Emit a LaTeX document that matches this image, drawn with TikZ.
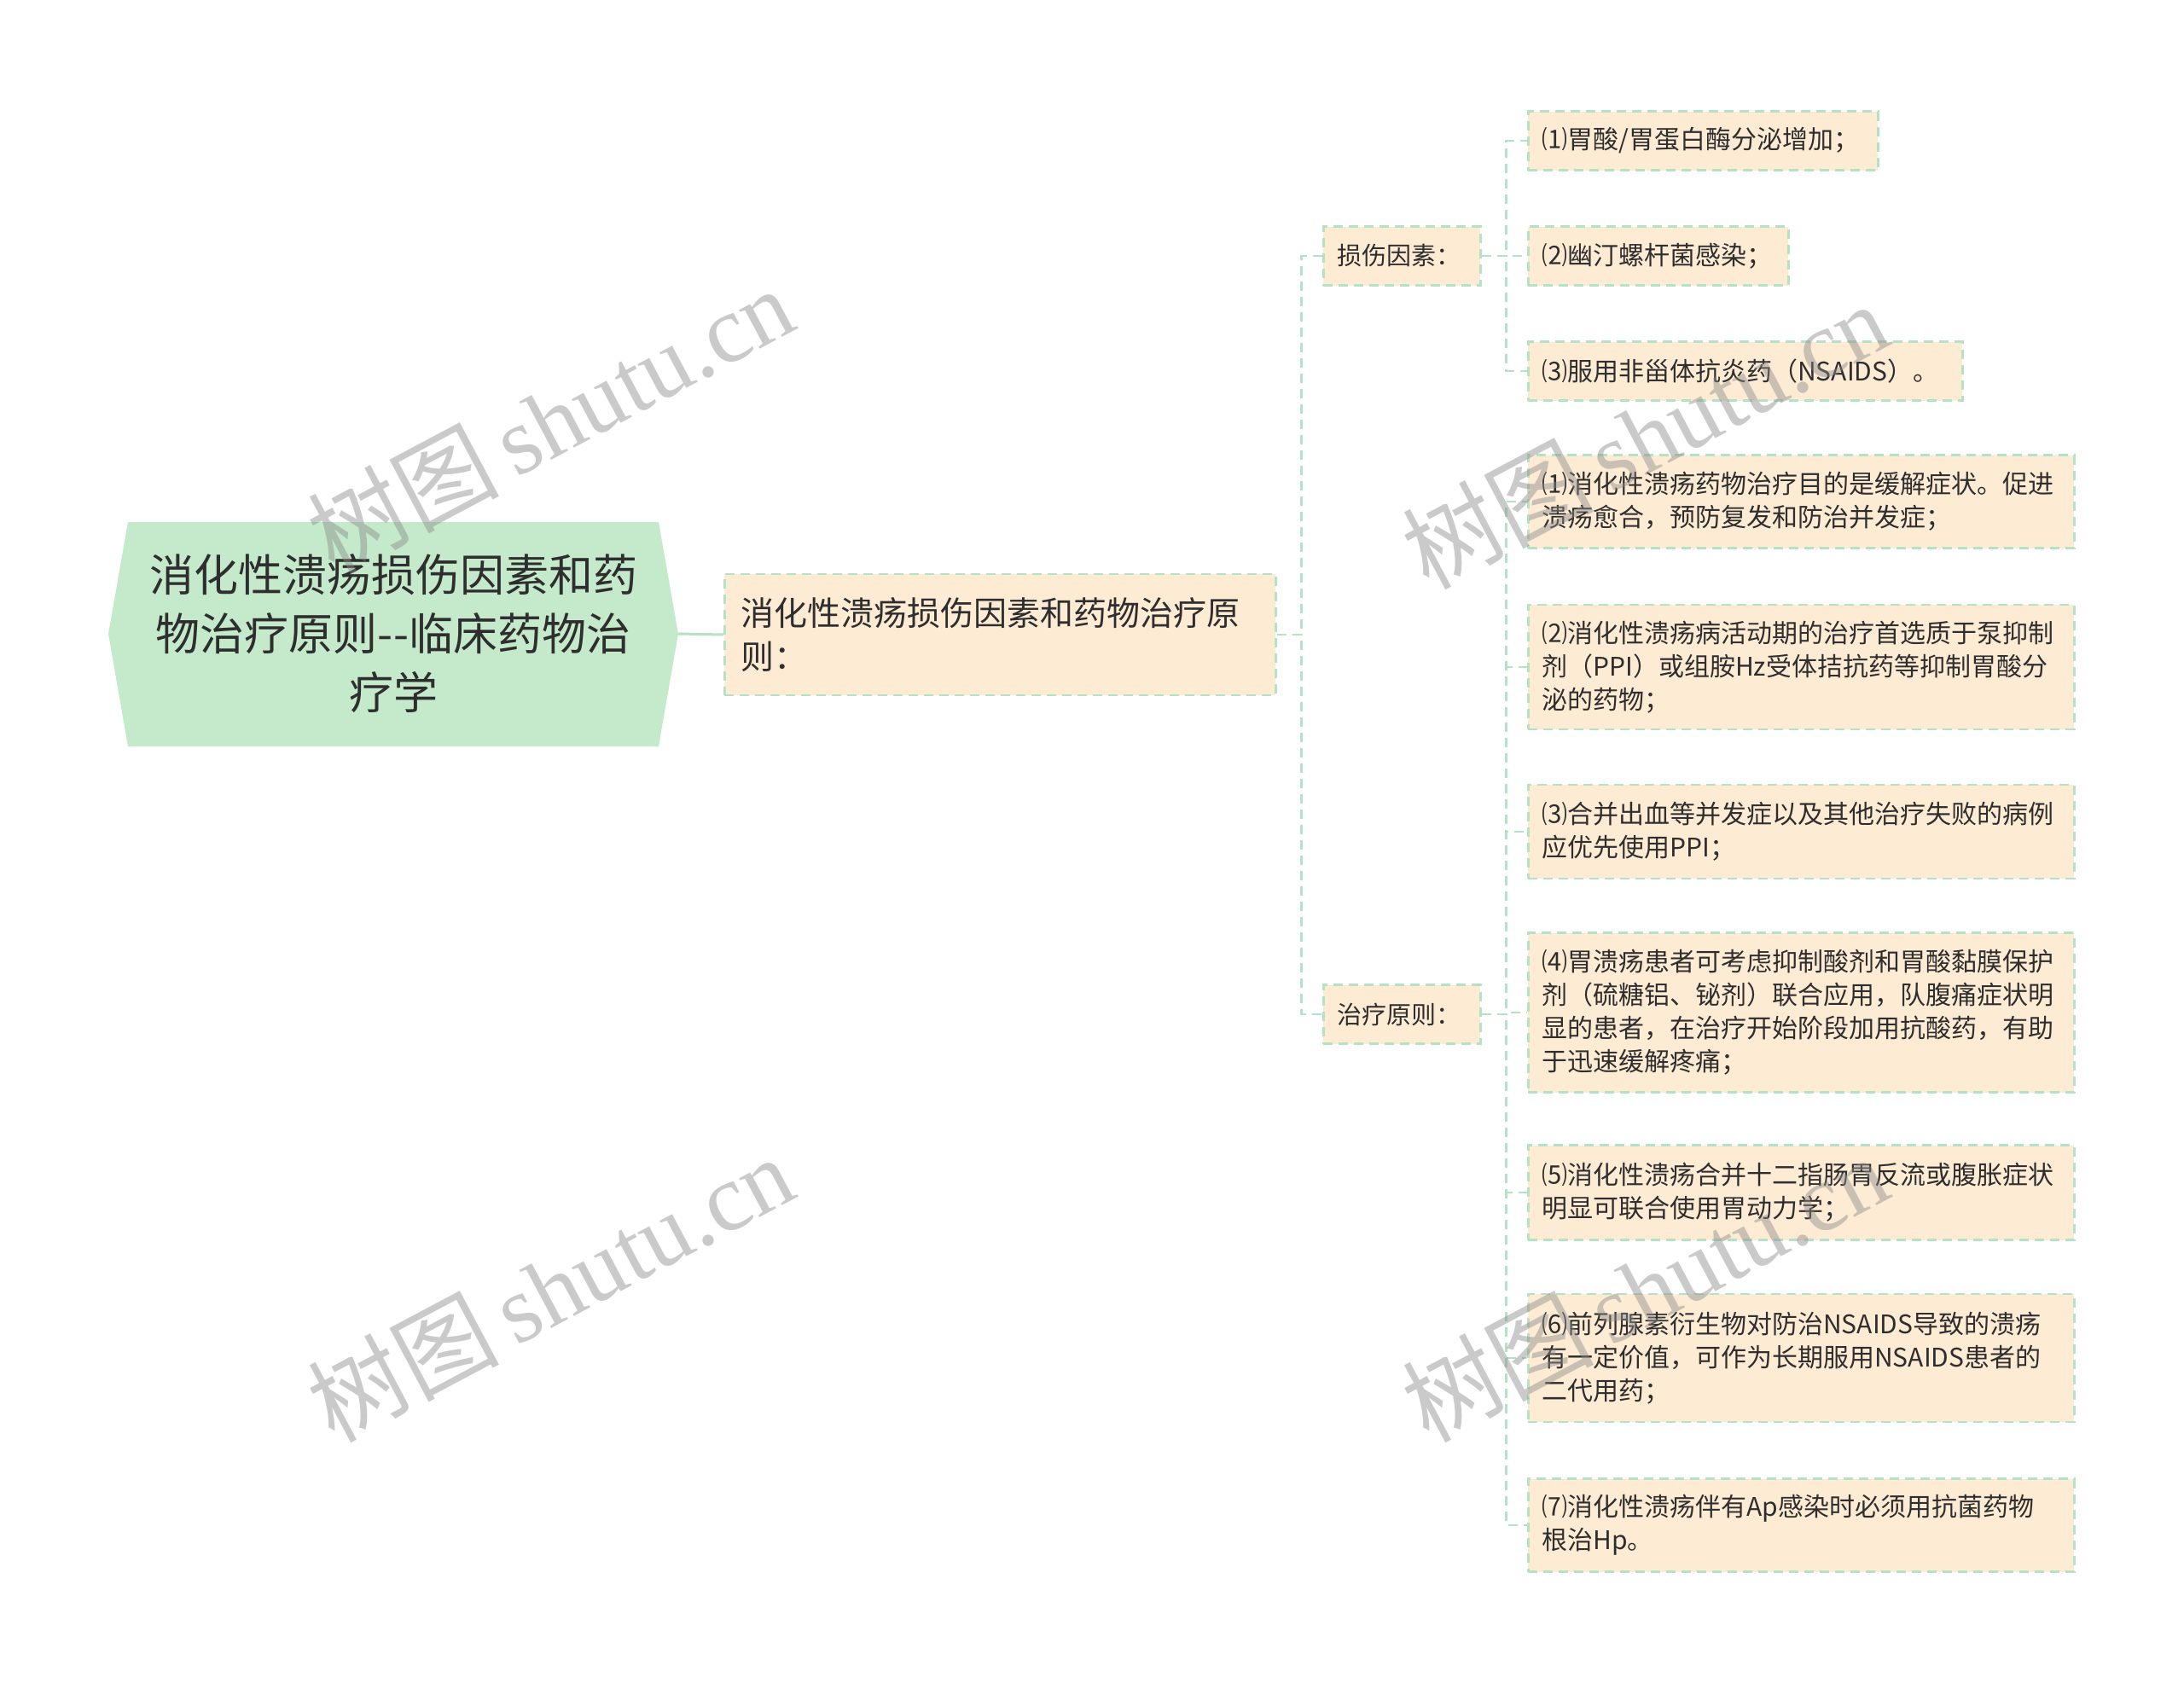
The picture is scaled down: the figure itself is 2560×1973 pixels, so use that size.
\documentclass[tikz,border=0pt]{standalone}
\usepackage{fontspec}
\setmainfont{Noto Sans CJK SC}
\newfontfamily\wmlatin{Liberation Serif}
\newfontfamily\wmcjk{Noto Sans CJK SC}
\definecolor{boxfill}{HTML}{FDEBD4}
\definecolor{linec}{HTML}{B4E2C4}
\definecolor{rootfill}{HTML}{C4EACB}
\definecolor{textc}{HTML}{2E2E2E}
\definecolor{wmc}{HTML}{8A8A8A}
\begin{document}
\begin{tikzpicture}[x=1pt,y=-1pt,
  dashline/.style={draw=linec, line width=2.5pt, dash pattern=on 11pt off 7pt},
  conn/.style={dashline},
  rootline/.style={draw=linec, line width=3pt},
  itembox/.style={rectangle, fill=boxfill, dashline, anchor=west, align=left,
    inner xsep=16pt, inner ysep=0pt, text=textc,
    font=\fontsize{30pt}{39pt}\selectfont},
  l1box/.style={rectangle, fill=boxfill, dashline, anchor=west, align=left,
    inner xsep=19pt, inner ysep=0pt, text=textc, text width=608pt,
    minimum height=142pt, font=\fontsize{39pt}{51pt}\selectfont},
  wm/.style={text=wmc, opacity=0.45, rotate=28, inner sep=0pt,
    font=\fontsize{112pt}{116pt}\selectfont}
]
\useasboundingbox (0,0) rectangle (2560,1973);

% root
\fill[rootfill] (127,743) -- (150,612) -- (772,612) -- (795,743) -- (772,875) -- (150,875) -- cycle;
\node[minimum width=668pt, minimum height=263pt, inner sep=0pt, align=center, text=textc,
  font=\fontsize{52pt}{69pt}\selectfont] (root) at (461,743)
  {消化性溃疡损伤因素和药\\物治疗原则-{}-临床药物治\\疗学};

% level 1
\node[l1box] (l1) at (848,744) {消化性溃疡损伤因素和药物治疗原\\则：};

% level 2
\node[itembox, text width=152pt, minimum height=69pt, font=\fontsize{29pt}{36pt}\selectfont] (dmg) at (1550,300) {损伤因素：};
\node[itembox, text width=152pt, minimum height=69pt, font=\fontsize{29pt}{36pt}\selectfont] (trt) at (1550,1189) {治疗原则：};

% damage items
\node[itembox, text width=378pt, minimum height=69pt] (d1) at (1790,165) {⑴胃酸/胃蛋白酶分泌增加；};
\node[itembox, text width=273pt, minimum height=69pt] (d2) at (1790,300) {⑵幽汀螺杆菌感染；};
\node[itembox, text width=477pt, minimum height=69pt] (d3) at (1790,435) {⑶服用非甾体抗炎药（NSAIDS）。};

% treatment items
\node[itembox, text width=608pt, minimum height=109pt] (t1) at (1790,588) {⑴消化性溃疡药物治疗目的是缓解症状。促进\\溃疡愈合，预防复发和防治并发症；};
\node[itembox, text width=608pt, minimum height=146pt] (t2) at (1790,782) {⑵消化性溃疡病活动期的治疗首选质于泵抑制\\剂（PPI）或组胺Hz受体拮抗药等抑制胃酸分\\泌的药物；};
\node[itembox, text width=608pt, minimum height=110pt] (t3) at (1790,975) {⑶合并出血等并发症以及其他治疗失败的病例\\应优先使用PPI；};
\node[itembox, text width=608pt, minimum height=187pt] (t4) at (1790,1187) {⑷胃溃疡患者可考虑抑制酸剂和胃酸黏膜保护\\剂（硫糖铝、铋剂）联合应用，队腹痛症状明\\显的患者，在治疗开始阶段加用抗酸药，有助\\于迅速缓解疼痛；};
\node[itembox, text width=608pt, minimum height=111pt] (t5) at (1790,1398) {⑸消化性溃疡合并十二指肠胃反流或腹胀症状\\明显可联合使用胃动力学；};
\node[itembox, text width=608pt, minimum height=150pt] (t6) at (1790,1592) {⑹前列腺素衍生物对防治NSAIDS导致的溃疡\\有一定价值，可作为长期服用NSAIDS患者的\\二代用药；};
\node[itembox, text width=608pt, minimum height=109pt] (t7) at (1790,1788) {⑺消化性溃疡伴有Ap感染时必须用抗菌药物\\根治Hp。};

% connectors
\draw[rootline] (root.east) -- (l1.west);
\foreach \c in {dmg,trt} \draw[conn] (l1.east) -- ++(29,0) |- (\c.west);
\foreach \c in {d1,d2,d3} \draw[conn] (dmg.east) -- ++(29,0) |- (\c.west);
\foreach \c in {t1,t2,t3,t4,t5,t6,t7} \draw[conn] (trt.east) -- ++(29,0) |- (\c.west);

% watermarks
\node[wm] (wm1) at (645,492) {\wmcjk 树图\,\wmlatin shutu.cn};
\node[wm] (wm2) at (1928,510) {\wmcjk 树图\,\wmlatin shutu.cn};
\node[wm] (wm3) at (645,1510) {\wmcjk 树图\,\wmlatin shutu.cn};
\node[wm] (wm4) at (1928,1510) {\wmcjk 树图\,\wmlatin shutu.cn};
\end{tikzpicture}
\end{document}
